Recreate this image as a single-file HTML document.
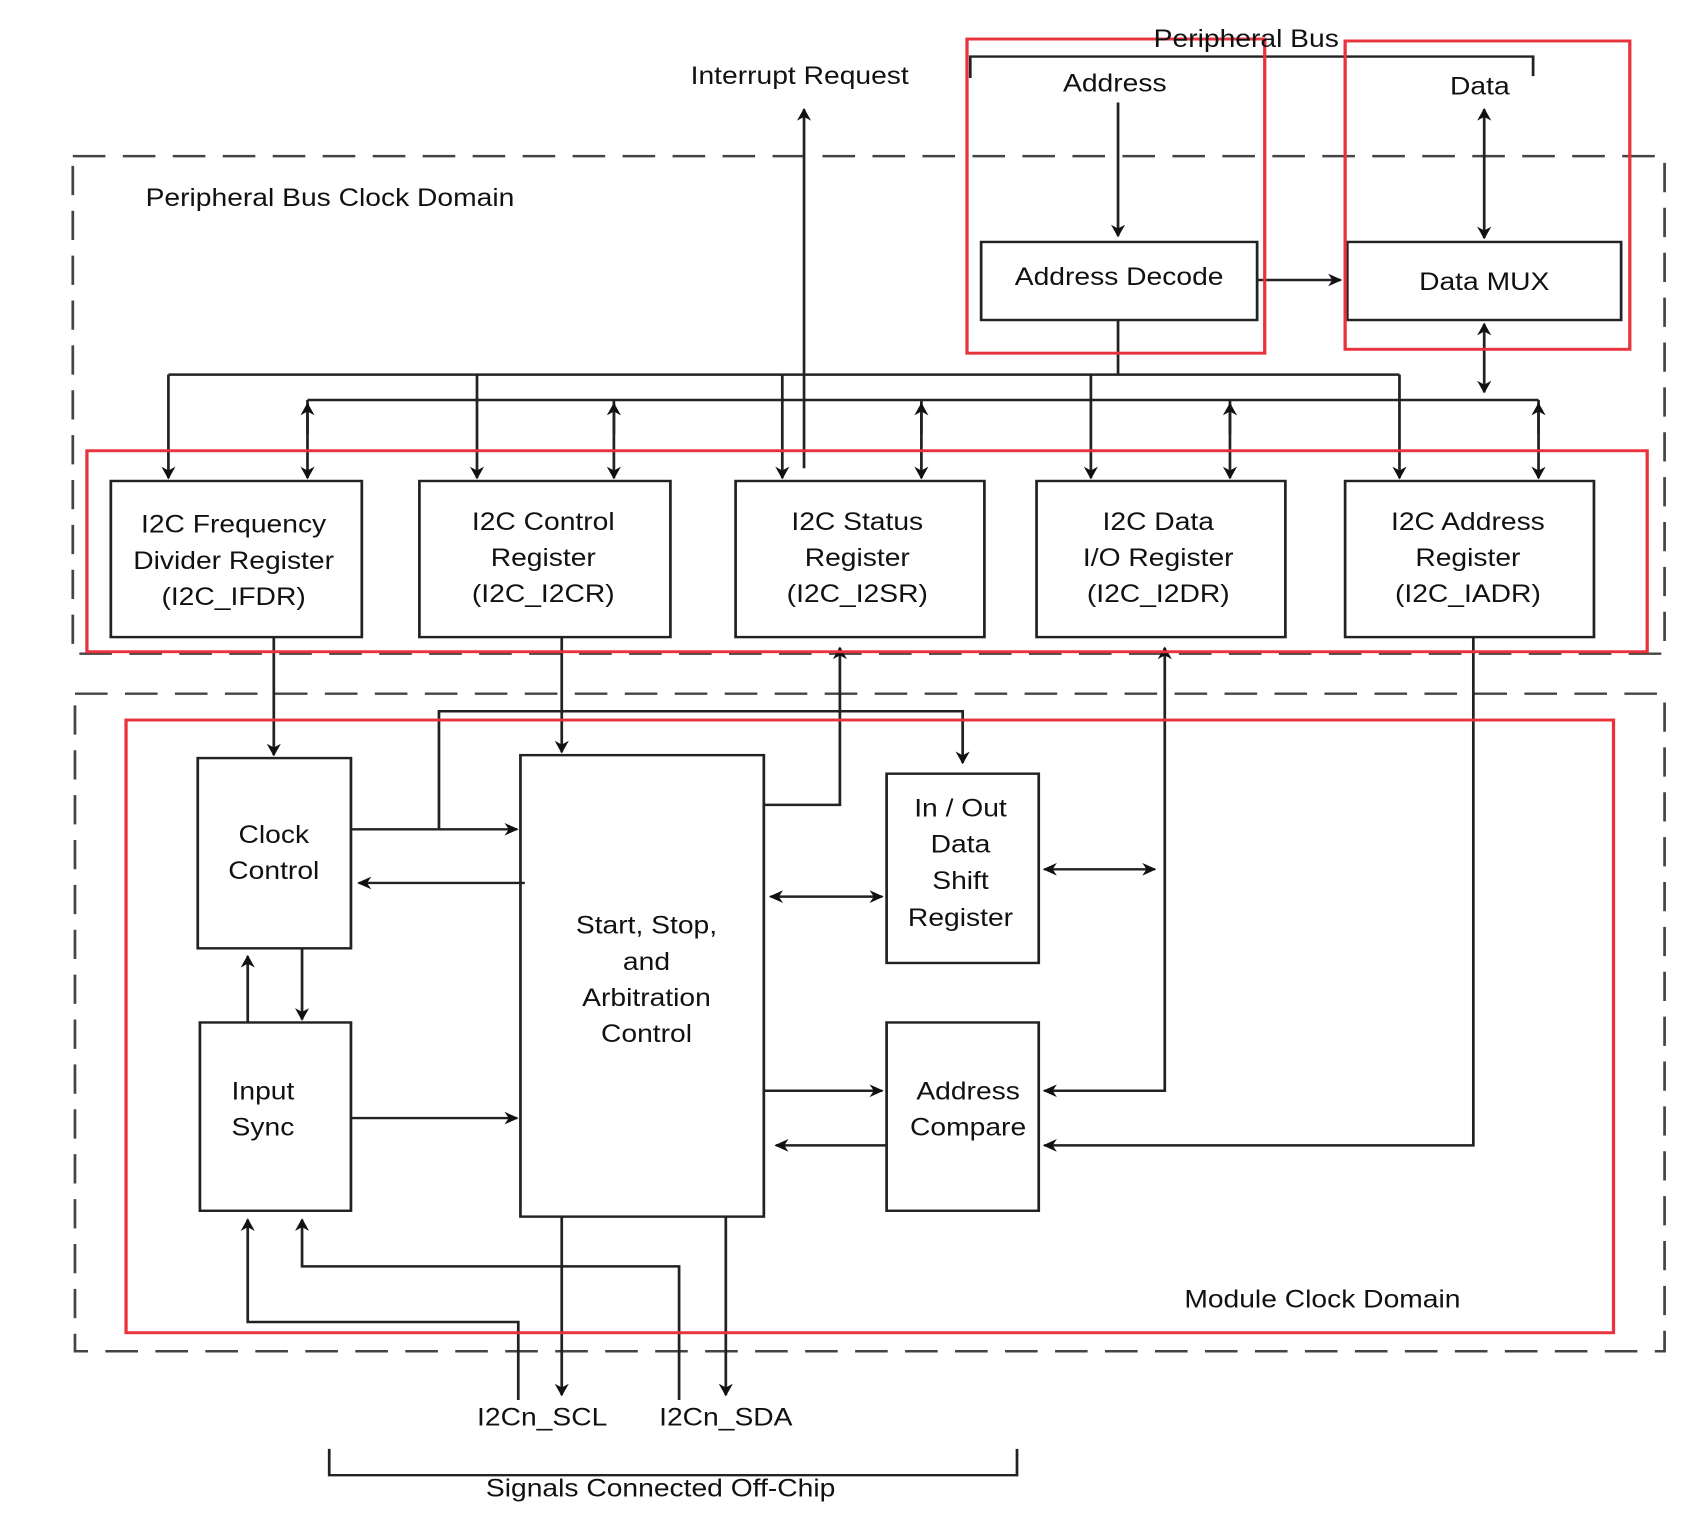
<!DOCTYPE html>
<html><head><meta charset="utf-8"><style>html,body{margin:0;padding:0;background:#fff}svg{display:block}</style></head>
<body>
<svg width="1695" height="1522" viewBox="0 0 1560 1560" preserveAspectRatio="none" xmlns="http://www.w3.org/2000/svg" font-family="Liberation Sans, sans-serif" font-size="26" fill="#111">
<defs>
<marker id="a" viewBox="0 0 10 10" refX="9" refY="5" markerWidth="16" markerHeight="13" markerUnits="userSpaceOnUse" orient="auto-start-reverse">
<path d="M0,0 L10,5 L0,10 L3,5 z" fill="#111"/></marker>
</defs>
<g stroke="#222" stroke-width="2.5" fill="none">
<rect x="67" y="160" width="1465" height="510" stroke-dasharray="30,16" stroke="#444"/>
<rect x="69" y="711" width="1463" height="674" stroke-dasharray="30,16" stroke="#444"/>
<polyline points="893,80 893,58 1411,58 1411,78"/>
<line x1="1029" y1="105" x2="1029" y2="242" marker-end="url(#a)"/>
<rect x="903" y="248" width="254" height="80"/>
<rect x="1240" y="248" width="252" height="80"/>
<line x1="1157" y1="287" x2="1234" y2="287" marker-end="url(#a)"/>
<line x1="1366" y1="112" x2="1366" y2="244" marker-start="url(#a)" marker-end="url(#a)"/>
<line x1="1366" y1="332" x2="1366" y2="402" marker-start="url(#a)" marker-end="url(#a)"/>
<line x1="740" y1="480" x2="740" y2="112" marker-end="url(#a)"/>
<polyline points="1029,328 1029,384"/>
<line x1="155" y1="384" x2="1288" y2="384"/>
<line x1="283" y1="410" x2="1416" y2="410"/>
<line x1="155" y1="384" x2="155" y2="490" marker-end="url(#a)"/>
<line x1="439" y1="384" x2="439" y2="490" marker-end="url(#a)"/>
<line x1="720" y1="384" x2="720" y2="490" marker-end="url(#a)"/>
<line x1="1004" y1="384" x2="1004" y2="490" marker-end="url(#a)"/>
<line x1="1288" y1="384" x2="1288" y2="490" marker-end="url(#a)"/>
<line x1="283" y1="410" x2="283" y2="490" marker-end="url(#a)"/>
<line x1="283" y1="445" x2="283" y2="414" marker-end="url(#a)"/>
<line x1="565" y1="410" x2="565" y2="490" marker-end="url(#a)"/>
<line x1="565" y1="445" x2="565" y2="414" marker-end="url(#a)"/>
<line x1="848" y1="410" x2="848" y2="490" marker-end="url(#a)"/>
<line x1="848" y1="445" x2="848" y2="414" marker-end="url(#a)"/>
<line x1="1132" y1="410" x2="1132" y2="490" marker-end="url(#a)"/>
<line x1="1132" y1="445" x2="1132" y2="414" marker-end="url(#a)"/>
<line x1="1416" y1="410" x2="1416" y2="490" marker-end="url(#a)"/>
<line x1="1416" y1="445" x2="1416" y2="414" marker-end="url(#a)"/>
<rect x="102" y="493" width="231" height="160"/>
<rect x="386" y="493" width="231" height="160"/>
<rect x="677" y="493" width="229" height="160"/>
<rect x="954" y="493" width="229" height="160"/>
<rect x="1238" y="493" width="229" height="160"/>
<rect x="182" y="777" width="141" height="195"/>
<rect x="479" y="774" width="224" height="473"/>
<rect x="816" y="793" width="140" height="194"/>
<rect x="816" y="1048" width="140" height="193"/>
<rect x="184" y="1048" width="139" height="193"/>
<line x1="252" y1="653" x2="252" y2="774" marker-end="url(#a)"/>
<line x1="517" y1="653" x2="517" y2="771" marker-end="url(#a)"/>
<polyline points="404,850 404,729 886,729 886,782" marker-end="url(#a)"/>
<line x1="323" y1="850" x2="476" y2="850" marker-end="url(#a)"/>
<line x1="483" y1="905" x2="330" y2="905" marker-end="url(#a)"/>
<polyline points="703,825 773,825 773,664" marker-end="url(#a)"/>
<line x1="709" y1="919" x2="812" y2="919" marker-start="url(#a)" marker-end="url(#a)"/>
<line x1="961" y1="891" x2="1063" y2="891" marker-start="url(#a)" marker-end="url(#a)"/>
<line x1="1072" y1="700" x2="1072" y2="664" marker-end="url(#a)"/>
<polyline points="1072,700 1072,1118 961,1118" marker-end="url(#a)"/>
<line x1="703" y1="1118" x2="812" y2="1118" marker-end="url(#a)"/>
<line x1="816" y1="1174" x2="714" y2="1174" marker-end="url(#a)"/>
<polyline points="1356,653 1356,1174 961,1174" marker-end="url(#a)"/>
<line x1="228" y1="1048" x2="228" y2="980" marker-end="url(#a)"/>
<line x1="278" y1="972" x2="278" y2="1045" marker-end="url(#a)"/>
<line x1="323" y1="1146" x2="476" y2="1146" marker-end="url(#a)"/>
<polyline points="477,1435 477,1355 228,1355 228,1250" marker-end="url(#a)"/>
<polyline points="625,1435 625,1298 278,1298 278,1250" marker-end="url(#a)"/>
<line x1="517" y1="1247" x2="517" y2="1430" marker-end="url(#a)"/>
<line x1="668" y1="1247" x2="668" y2="1430" marker-end="url(#a)"/>
<polyline points="303,1485 303,1512 936,1512 936,1485"/>
</g>
<g stroke="#e8323c" stroke-width="3" fill="none">
<rect x="890" y="40" width="274" height="322"/>
<rect x="1238" y="42" width="262" height="316"/>
<rect x="80" y="462" width="1436" height="206"/>
<rect x="116" y="738" width="1369" height="628"/>
</g>
<g text-anchor="middle">
<text x="1147" y="48">Peripheral Bus</text>
<text x="1026" y="94">Address</text>
<text x="1362" y="97">Data</text>
<text x="1030" y="292">Address Decode</text>
<text x="1366" y="297">Data MUX</text>
<text x="736" y="86">Interrupt Request</text>
<text x="215" y="546">I2C Frequency</text><text x="215" y="583">Divider Register</text><text x="215" y="620">(I2C_IFDR)</text>
<text x="500" y="543">I2C Control</text><text x="500" y="580">Register</text><text x="500" y="617">(I2C_I2CR)</text>
<text x="789" y="543">I2C Status</text><text x="789" y="580">Register</text><text x="789" y="617">(I2C_I2SR)</text>
<text x="1066" y="543">I2C Data</text><text x="1066" y="580">I/O Register</text><text x="1066" y="617">(I2C_I2DR)</text>
<text x="1351" y="543">I2C Address</text><text x="1351" y="580">Register</text><text x="1351" y="617">(I2C_IADR)</text>
<text x="252" y="864">Clock</text><text x="252" y="901">Control</text>
<text x="595" y="957">Start,  Stop,</text><text x="595" y="994">and</text><text x="595" y="1031">Arbitration</text><text x="595" y="1068">Control</text>
<text x="884" y="837">In / Out</text><text x="884" y="874">Data</text><text x="884" y="911">Shift</text><text x="884" y="949">Register</text>
<text x="891" y="1127">Address</text><text x="891" y="1164">Compare</text>
<text x="242" y="1127">Input</text><text x="242" y="1164">Sync</text>
<text x="499" y="1461">I2Cn_SCL</text>
<text x="668" y="1461">I2Cn_SDA</text>
<text x="608" y="1534">Signals Connected Off-Chip</text>
</g>
<text x="134" y="211">Peripheral Bus Clock Domain</text>
<text x="1090" y="1340">Module Clock Domain</text>
</svg>
</body></html>
